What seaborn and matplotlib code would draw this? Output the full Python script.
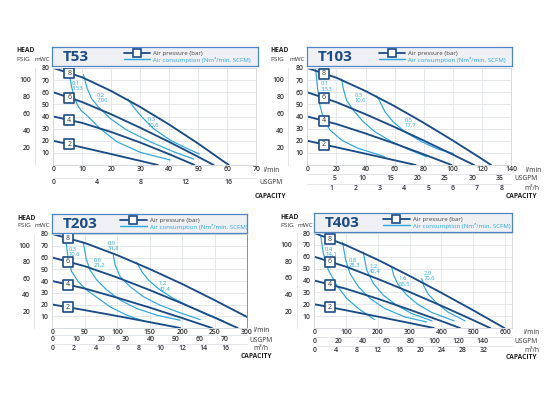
import numpy as np
import pandas as pd
import matplotlib
matplotlib.use("Agg")
import matplotlib.pyplot as plt
from matplotlib.lines import Line2D
import seaborn as sns

# colours
NAVY = "#1b4c86"
AIR = "#2ba6de"
GRID = "#e1e4e8"
FAINT = "#e3e6ea"
TXT = "#333333"

W, H = 550, 395

BARS = [2, 4, 6, 8]

# ---------------- T53 (l/min vs mWC) ----------------
t53_press_x = [[0, 10, 20, 30, 36],
               [0, 10, 20, 30, 40, 48.7],
               [0, 10, 20, 30, 40, 50, 55.3],
               [0, 10, 20, 30, 40, 50, 60.5]]
t53_press_y = [[20, 14.5, 9, 3.4, 0],
               [40, 34.7, 27.2, 18.5, 8.9, 0],
               [60, 51.9, 41.8, 30.7, 19, 6.7, 0],
               [80, 72.3, 61, 47.8, 33.3, 17.6, 0]]
t53_air_x = [[5.5, 6.3, 7.2, 8.3, 9.6, 11.5, 16.1, 21.9, 30, 40.3],
             [10.4, 11.7, 13.2, 15.5, 19.6, 25.3, 33.4, 41.4, 48.4],
             [25.7, 27.6, 30.5, 34.5, 40.3, 46, 50.4]]
t53_air_y = [[76, 64.6, 56.3, 49.5, 45, 41, 30.1, 19.2, 10.4, 4.1],
             [74.5, 63, 54.8, 48, 38.4, 28.8, 19.2, 11, 4.9],
             [54.5, 48, 39.7, 30.1, 20.5, 13.7, 9]]
t53_air_labels = ["0,1\n3,53", "0,2\n7,06", "0,3\n10,6"]
t53_label_x = [6.3, 15, 32.6]
t53_label_y = [65.7, 55.5, 35.2]
t53_box_x = 5.5

# ---------------- T103 ----------------
t103_press_x = [[0, 20, 40, 60, 74.5],
                [0, 20, 40, 60, 80, 99.2],
                [0, 20, 40, 60, 80, 100, 114.6],
                [0, 20, 40, 60, 80, 100, 120, 126.3]]
t103_press_y = [[20, 14.6, 9.3, 3.9, 0],
                [40, 33.8, 26, 17.7, 8.8, 0],
                [60, 51.8, 41.9, 31.3, 20.2, 8.6, 0],
                [80, 72, 61, 48.5, 34.8, 20.2, 5, 0]]
t103_air_x = [[5.7, 7.1, 8.7, 11, 15.6, 23.6, 35, 53],
              [23.6, 24.7, 27, 31.6, 38.5, 46.5, 58, 69.4, 82],
              [47.7, 50, 53.4, 59, 67, 78.6, 90, 100.4]]
t103_air_y = [[79.5, 63, 49.3, 38.4, 28.8, 20.5, 13.7, 7],
              [71, 63, 53.4, 45.2, 35.6, 27.4, 19.2, 12.9, 6.8],
              [57, 52, 43.8, 35.6, 27.4, 19.2, 12.9, 9.6]]
t103_air_labels = ["0,1\n3,53", "0,3\n10,6", "0,5\n17,7"]
t103_label_x = [9.4, 32.3, 67.1]
t103_label_y = [65, 55.2, 35]
t103_box_x = 11.5

# ---------------- T203 ----------------
t203_press_x = [[0, 50, 100, 150, 197],
                [0, 50, 100, 150, 200, 246],
                [0, 50, 100, 150, 200, 250, 285.6],
                [0, 50, 100, 150, 200, 250, 300]]
t203_press_y = [[20, 15.2, 10.2, 5, 0],
                [40, 33.6, 25.8, 17.4, 8.5, 0],
                [60, 52.6, 43, 32.3, 20.9, 8.9, 0],
                [80, 72.4, 62, 50.2, 37.5, 23.7, 9.4]]
t203_air_x = [[19.6, 22, 24.7, 29.9, 40, 53, 71, 89, 114.8, 140.5],
              [47.9, 52, 58, 68.5, 84, 104.5, 130, 161, 197],
              [94, 96.8, 104.5, 120, 140.5, 166, 197, 228],
              [130, 138, 148, 166, 187, 212.5, 238, 264]]
t203_air_y = [[78, 69.4, 58, 48, 39.4, 32.3, 25.1, 18, 10.9, 6],
              [72.5, 59.4, 49.4, 40.9, 32.3, 23.7, 16.6, 10.9, 6.6],
              [62, 53.7, 43.7, 35.1, 26.6, 19.4, 12.9, 7.1],
              [56, 48, 40.9, 32.3, 25.1, 18, 11.4, 6]]
t203_air_labels = ["0,3\n10,6", "0,6\n21,2", "0,9\n31,8", "1,2\n42,4"]
t203_label_x = [24.7, 63.3, 85, 164]
t203_label_y = [64.7, 55.5, 69.9, 35.5]
t203_box_x = 23.7

# ---------------- T403 ----------------
t403_press_x = [[0, 100, 200, 300, 375.5],
                [0, 100, 200, 300, 400, 458],
                [0, 100, 200, 300, 400, 500, 553],
                [0, 100, 200, 300, 400, 500, 598]]
t403_press_y = [[20, 14.9, 9.6, 4.2, 0],
                [40, 33, 24.6, 15.4, 5.8, 0],
                [60, 51.6, 41.3, 30.3, 18.7, 6.6, 0],
                [80, 69.7, 57.4, 43.8, 29.6, 14.9, 0]]
t403_air_x = [[20, 28.3, 44, 70, 102, 138.5, 189],
              [89, 98.6, 112, 138.5, 175, 222, 285, 353.5],
              [154, 164.7, 185.7, 217, 259, 306, 370],
              [243, 250, 265, 290, 325, 370, 440],
              [338, 345, 360, 385, 420, 474]]
t403_air_y = [[78, 63, 48.9, 36.2, 24.9, 16.4, 7.1],
              [72, 57.4, 46, 34.8, 24.9, 16.4, 9.3, 5.1],
              [64, 48.9, 37.6, 27.7, 19.2, 12.2, 6],
              [52, 44, 36, 28, 20, 13, 6],
              [41.5, 35, 28, 21, 13.5, 6]]
t403_air_labels = ["0,4\n14,1", "0,8\n28,3", "1,2\n42,4", "1,6\n56,5", "2,0\n70,6"]
t403_label_x = [33.6, 109, 173, 264, 343]
t403_label_y = [64.5, 55, 50, 39.4, 44.1]
t403_box_x = 49.3


def lpm_to_gpm(x):
    return np.asarray(x) / 3.78541


def gpm_to_lpm(x):
    return np.asarray(x) * 3.78541


def lpm_to_m3h(x):
    return np.asarray(x) * 0.06


def m3h_to_lpm(x):
    return np.asarray(x) / 0.06


def mwc_to_psi(y):
    return np.asarray(y) / 0.70307


def psi_to_mwc(y):
    return np.asarray(y) * 0.70307


def curves_frame(xs, ys, names):
    rows = []
    for name, cx, cy in zip(names, xs, ys):
        for i, (a, b) in enumerate(zip(cx, cy)):
            rows.append({"curve": name, "order": i, "flow": a, "head": b})
    return pd.DataFrame(rows)


sns.set_theme(style="whitegrid")
plt.rcParams["font.family"] = ["Open Sans", "DejaVu Sans"]
plt.rcParams["font.weight"] = "semibold"

fig = plt.figure(figsize=(5.5, 3.95), dpi=100)
fig.patch.set_facecolor("white")


def add_axes_px(x0, y0, x1, y1):
    return fig.add_axes([x0 / W, 1 - y1 / H, (x1 - x0) / W, (y1 - y0) / H])


def ftext(x, y, s, **kw):
    fig.text(x / W, 1 - y / H, s, va="center", ha="left", **kw)


panels = [
    dict(name="T53", px=t53_press_x, py=t53_press_y, ax_=t53_air_x, ay=t53_air_y,
         labels=t53_air_labels, lx=t53_label_x, ly=t53_label_y, box_x=t53_box_x,
         rect=(53.3, 68, 256.3, 165), title=(52, 47, 258, 66), xmax=70,
         xticks=range(0, 71, 10),
         rows=[(183, [0, 4, 8, 12, 16], (lpm_to_gpm, gpm_to_lpm))],
         units=[("l/min", 263, 170), ("USGPM", 259, 183)], cap=(255, 196),
         head=(16.7, 50), psig=(16.7, 59.3), mwc=(35, 59.3), psig_dx=-18.3,
         frame="#d6dade"),
    dict(name="T103", px=t103_press_x, py=t103_press_y, ax_=t103_air_x, ay=t103_air_y,
         labels=t103_air_labels, lx=t103_label_x, ly=t103_label_y, box_x=t103_box_x,
         rect=(307.3, 68, 511, 165), title=(307, 47, 512, 66), xmax=140,
         xticks=range(0, 141, 20),
         rows=[(179, [5, 10, 15, 20, 25, 30, 35], (lpm_to_gpm, gpm_to_lpm)),
               (189, [1, 2, 3, 4, 5, 6, 7, 8], (lpm_to_m3h, m3h_to_lpm))],
         units=[("l/min", 525, 170), ("USGPM", 514, 179), ("m³/h", 524, 189)],
         cap=(506, 196.5), head=(270, 50), psig=(270, 59.3), mwc=(289, 59.3),
         psig_dx=-19, frame="#d6dade"),
    dict(name="T203", px=t203_press_x, py=t203_press_y, ax_=t203_air_x, ay=t203_air_y,
         labels=t203_air_labels, lx=t203_label_x, ly=t203_label_y, box_x=t203_box_x,
         rect=(52.3, 234, 247, 328), title=(52, 214, 247, 233), xmax=300,
         xticks=range(0, 301, 50),
         rows=[(340, list(range(0, 71, 10)), (lpm_to_gpm, gpm_to_lpm)),
               (349, list(range(0, 17, 2)), (lpm_to_m3h, m3h_to_lpm))],
         units=[("l/min", 253, 331), ("USGPM", 249, 340), ("m³/h", 253, 349)],
         cap=(241, 357), head=(17.3, 218), psig=(17.3, 225.5), mwc=(34.3, 225.5),
         psig_dx=-18, frame="#8a8f96"),
    dict(name="T403", px=t403_press_x, py=t403_press_y, ax_=t403_air_x, ay=t403_air_y,
         labels=t403_air_labels, lx=t403_label_x, ly=t403_label_y, box_x=t403_box_x,
         rect=(314.3, 233, 511.7, 328), title=(314, 213, 512, 232), xmax=621,
         xticks=range(0, 601, 100),
         rows=[(341.7, list(range(0, 141, 20)), (lpm_to_gpm, gpm_to_lpm)),
               (350.7, list(range(0, 33, 4)), (lpm_to_m3h, m3h_to_lpm))],
         units=[("l/min", 523, 332), ("USGPM", 514, 341.7), ("m³/h", 524, 350.7)],
         cap=(506, 357.5), head=(280.7, 217.3), psig=(280.7, 225.5), mwc=(297.3, 225.5),
         psig_dx=-17.6, frame="#d6dade"),
]

for p in panels:
    x0, y0, x1, y1 = p["rect"]
    ax = add_axes_px(x0, y0, x1, y1)
    ax.set_facecolor("white")

    press = curves_frame(p["px"], p["py"], BARS)
    air = curves_frame(p["ax_"], p["ay"], p["labels"])
    sns.lineplot(data=air, x="flow", y="head", units="curve", estimator=None,
                 sort=False, color=AIR, lw=0.85, ax=ax, legend=False)
    sns.lineplot(data=press, x="flow", y="head", units="curve", estimator=None,
                 sort=False, color=NAVY, lw=1.35, ax=ax, legend=False)

    ax.set_xlim(0, p["xmax"])
    ax.set_ylim(0, 80)
    ax.set_xticks(list(p["xticks"]))
    ax.set_yticks(range(10, 81, 10))
    ax.set_xlabel("")
    ax.set_ylabel("")
    ax.grid(True, color=GRID, lw=0.6)
    ax.tick_params(axis="x", labelsize=5, pad=1, colors=TXT, length=0)
    ax.tick_params(axis="y", labelsize=5, pad=2.5, colors=TXT, length=0)
    for s in ax.spines.values():
        s.set_color("#d6dade")
        s.set_linewidth(0.7)
    ax.spines["right"].set_color(p["frame"])

    # bar level boxes on the pressure lines
    bx = [p["box_x"]] * len(BARS)
    by = [np.interp(p["box_x"], cx, cy) for cx, cy in zip(p["px"], p["py"])]
    ax.scatter(bx, by, marker="s", s=42, facecolor="white", edgecolor=NAVY,
               linewidth=1.2, zorder=5)
    for xb, yb, b in zip(bx, by, BARS):
        ax.text(xb, yb, str(b), ha="center", va="center", fontsize=5,
                color=TXT, fontweight="normal", zorder=6)

    # air consumption labels
    for lab, lx, ly in zip(p["labels"], p["lx"], p["ly"]):
        ax.text(lx, ly, lab, ha="left", va="center", fontsize=4.2, color=AIR,
                fontweight="normal", linespacing=1.05, zorder=4)

    # PSIG scale
    ax_h = y1 - y0
    ax_w = x1 - x0
    sy = ax.secondary_yaxis(p["psig_dx"] / ax_w, functions=(mwc_to_psi, psi_to_mwc))
    sy.set_yticks([20, 40, 60, 80, 100])
    sy.tick_params(length=0, pad=3, labelsize=5, colors=TXT)
    for s in sy.spines.values():
        s.set_color(FAINT)
        s.set_linewidth(0.7)

    # flow rows
    for row_y, ticks, fns in p["rows"]:
        loc = -(row_y - 5 - y1) / ax_h
        sx = ax.secondary_xaxis(loc, functions=fns)
        sx.set_xticks(ticks)
        sx.tick_params(length=0, pad=1, labelsize=5, colors=TXT)
        for s in sx.spines.values():
            s.set_color(FAINT)
            s.set_linewidth(0.7)

    # unit texts
    for u, ux, uy in p["units"]:
        ftext(ux, uy, u, fontsize=4.8, color=TXT, fontweight="normal")
    ftext(p["cap"][0], p["cap"][1], "CAPACITY", fontsize=4.8, color="#222222",
          fontweight="bold")
    ftext(p["head"][0], p["head"][1], "HEAD", fontsize=4.8, color="#222222",
          fontweight="bold")
    ftext(p["psig"][0], p["psig"][1], "PSIG", fontsize=4.6, color=TXT, fontweight="normal")
    ftext(p["mwc"][0], p["mwc"][1], "mWC", fontsize=4.6, color=TXT, fontweight="normal")

    # title box with legend
    tx0, ty0, tx1, ty1 = p["title"]
    at = add_axes_px(tx0, ty0, tx1, ty1)
    at.set_facecolor("#eef0f4")
    at.set_xticks([])
    at.set_yticks([])
    at.grid(False)
    for s in at.spines.values():
        s.set_color("#4d86c2")
        s.set_linewidth(0.9)
    at.text(0.053, 0.48, p["name"], transform=at.transAxes, fontsize=11,
            fontweight="bold", color=NAVY, va="center", ha="left")
    handles = [
        Line2D([], [], color=NAVY, lw=1.3, marker="s", markersize=6,
               markerfacecolor="white", markeredgecolor=NAVY, markeredgewidth=1.2),
        Line2D([], [], color=AIR, lw=1.0),
    ]
    at.legend(handles, ["Air pressure (bar)", "Air consumption (Nm³/min, SCFM)"],
              loc="center left", bbox_to_anchor=(0.35, 0.5), frameon=False,
              prop={"size": 4.4, "weight": "normal"}, handlelength=4.3,
              handletextpad=0.5, labelspacing=0.15, borderpad=0, borderaxespad=0,
              labelcolor=["#444444", AIR])

fig.savefig("out.png", dpi=100, facecolor="white")
